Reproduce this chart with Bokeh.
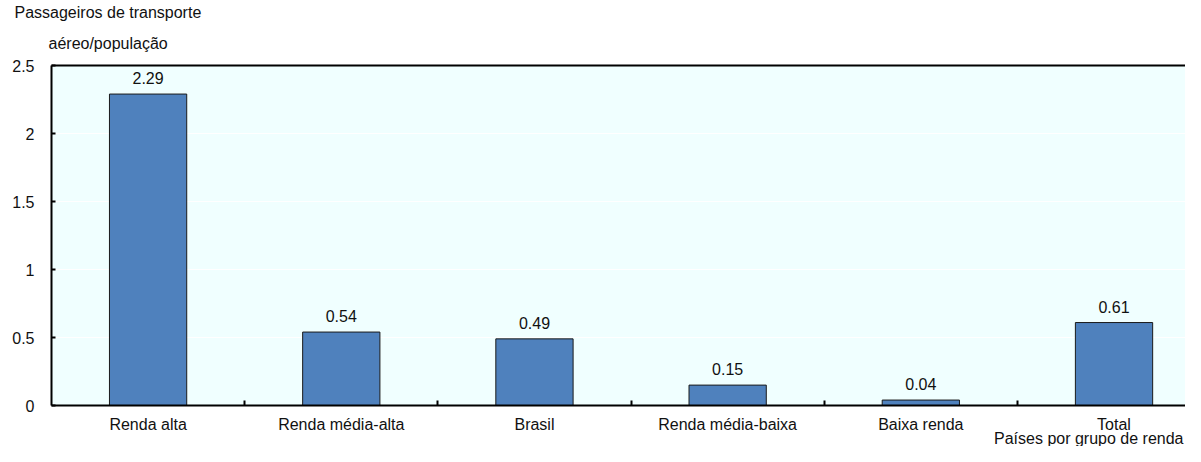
from bokeh.plotting import figure
from bokeh.models import FixedTicker, Range1d, ColumnDataSource, LinearAxis, Title
from bokeh.core.properties import value
from bokeh.embed import file_html
from bokeh.resources import INLINE

categories = ["Renda alta", "Renda média-alta", "Brasil", "Renda média-baixa", "Baixa renda", "Total"]
values = [2.29, 0.54, 0.49, 0.15, 0.04, 0.61]
value_labels = ["2.29", "0.54", "0.49", "0.15", "0.04", "0.61"]
y_ticks = [0, 0.5, 1, 1.5, 2, 2.5]
y_tick_labels = ["0", "0.5", "1", "1.5", "2", "2.5"]
y_title = ["Passageiros de transporte", "aéreo/população"]
x_title = "Países por grupo de renda"

FONT = "Liberation Sans"
FS = "16px"
TXT = "#111111"

W, H = 1185, 446
BL, BT, BB = 51, 65, 41
XMAX, YMAX = 5.87, 2.5

xs = [i + 0.5 for i in range(len(categories))]
src = ColumnDataSource(dict(x=xs, top=values, label=value_labels))

p = figure(width=W, height=H, output_backend="svg", toolbar_location=None,
           x_range=Range1d(0, XMAX), y_range=Range1d(0, YMAX),
           min_border_left=BL, min_border_right=0, min_border_top=BT, min_border_bottom=BB)
p.title.visible = False
p.background_fill_color = "#F0FFFF"
p.border_fill_color = "white"
p.outline_line_color = None

p.vbar(x="x", top="top", width=0.4, source=src, fill_color="#4F81BD",
       line_color="#1A1A1A", line_width=1)
p.text(x="x", y="top", text="label", source=src, text_align="center",
       text_baseline="alphabetic", y_offset=-16, text_font=value(FONT),
       text_font_size=FS, text_color=TXT)

# grid
p.xgrid.visible = False
p.ygrid.ticker = FixedTicker(ticks=y_ticks)
p.ygrid.grid_line_color = "white"
p.ygrid.grid_line_width = 1

# y axis
ya = p.yaxis[0]
ya.ticker = FixedTicker(ticks=y_ticks)
ya.major_label_overrides = {t: l for t, l in zip(y_ticks, y_tick_labels)}
ya.major_tick_in = 4
ya.major_tick_out = 0
ya.minor_tick_line_color = None
ya.major_tick_line_width = 2
ya.axis_line_width = 2
ya.axis_line_color = "black"
ya.major_tick_line_color = "black"
ya.major_label_standoff = 17
ya.major_label_text_font = FONT
ya.major_label_text_font_size = FS
ya.major_label_text_color = TXT

# x axis
xa = p.xaxis[0]
xa.ticker = FixedTicker(ticks=xs, minor_ticks=[float(i) for i in range(1, len(categories))])
xa.major_label_overrides = {x: c for x, c in zip(xs, categories)}
xa.major_tick_line_color = None
xa.major_tick_in = 0
xa.major_tick_out = 0
xa.minor_tick_in = 5
xa.minor_tick_out = 0
xa.minor_tick_line_width = 2
xa.minor_tick_line_color = "black"
xa.axis_line_width = 2
xa.axis_line_color = "black"
xa.major_label_standoff = 10
xa.major_label_text_font = FONT
xa.major_label_text_font_size = FS
xa.major_label_text_color = TXT

# top border line
top = LinearAxis(ticker=FixedTicker(ticks=[]), major_label_text_font_size="0px",
                 major_tick_line_color=None, minor_tick_line_color=None,
                 major_label_standoff=0, axis_line_width=2, axis_line_color="black")
p.add_layout(top, "above")

# y title (two lines, later added = further from the frame)
p.add_layout(Title(text=y_title[1], align="left", offset=-3, standoff=28, text_font=FONT,
                   text_font_size=FS, text_font_style="normal", text_color=TXT), "above")
p.add_layout(Title(text=y_title[0], align="left", offset=-37, standoff=-5, text_font=FONT,
                   text_font_size=FS, text_font_style="normal", text_color=TXT), "above")

# x title bottom right
p.add_layout(Title(text=x_title, align="right", offset=2, standoff=-16, text_font=FONT,
                   text_font_size=FS, text_font_style="normal", text_color=TXT), "below")

open("out.html", "w").write(file_html(p, INLINE))
